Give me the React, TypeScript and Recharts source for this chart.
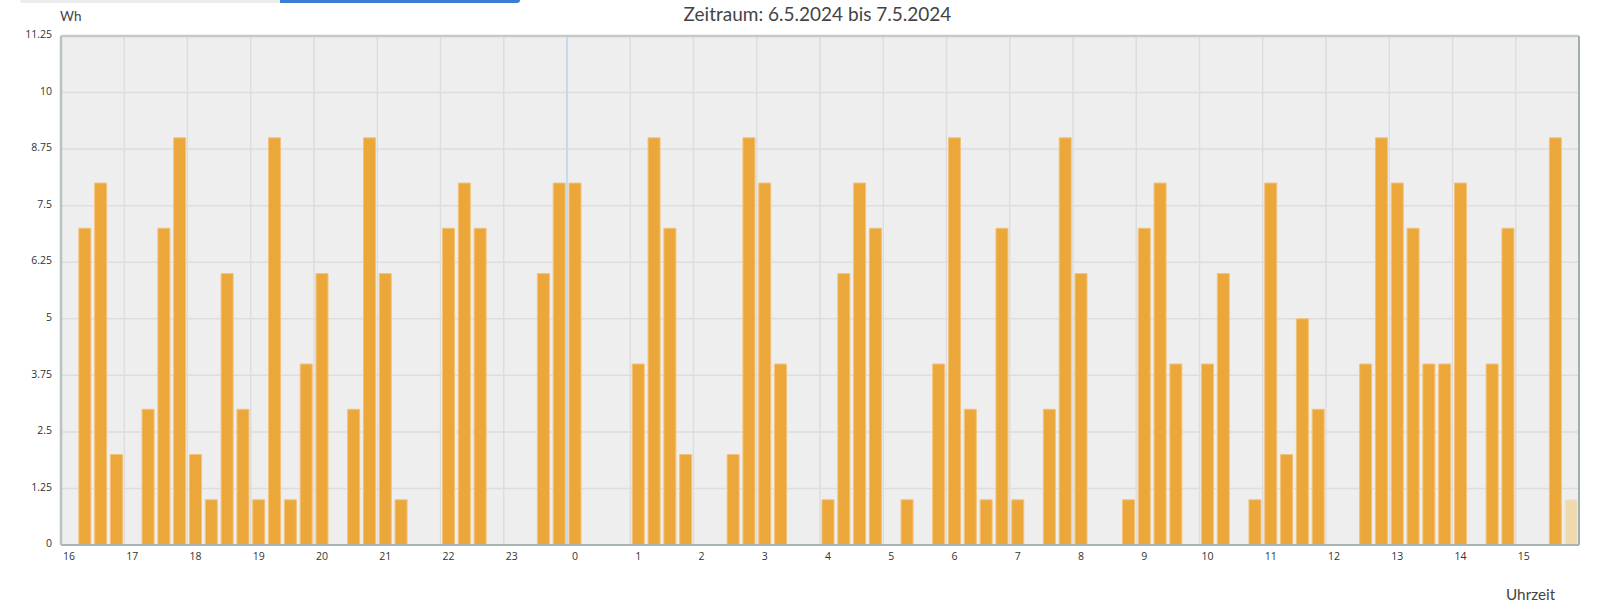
import { BarChart, Bar, XAxis, YAxis, CartesianGrid, ReferenceLine, Cell } from 'recharts';

// hour labels, starting 16:00 on 6.5.2024
const hourLabels = ['16', '17', '18', '19', '20', '21', '22', '23', '0', '1', '2', '3', '4', '5', '6', '7', '8', '9', '10', '11', '12', '13', '14', '15'];

// Wh per 15 minute slot (4 per hour)
const energyWh = [
    0, 7, 8, 2, 0, 3, 7, 9,
    2, 1, 6, 3, 1, 9, 1, 4,
    6, 0, 3, 9, 6, 1, 0, 0,
    7, 8, 7, 0, 0, 0, 6, 8,
    8, 0, 0, 0, 4, 9, 7, 2,
    0, 0, 2, 9, 8, 4, 0, 0,
    1, 6, 8, 7, 0, 1, 0, 4,
    9, 3, 1, 7, 1, 0, 3, 9,
    6, 0, 0, 1, 7, 8, 4, 0,
    4, 6, 0, 1, 8, 2, 5, 3,
    0, 0, 4, 9, 8, 7, 4, 4,
    8, 0, 4, 7, 0, 0, 9, 1,
];

const yTicks = [0, 1.25, 2.5, 3.75, 5, 6.25, 7.5, 8.75, 10, 11.25];

const title = 'Zeitraum: 6.5.2024 bis 7.5.2024';
const unitLabel = 'Wh';
const axisLabel = 'Uhrzeit';

const SLOTS_PER_HOUR = 4;
const totalSlots = hourLabels.length * SLOTS_PER_HOUR;
const data = energyWh.map((wh, i) => ({ slot: i + 0.5, wh }));
const hourTicks = hourLabels.map((_, i) => i * SLOTS_PER_HOUR);
const midnight = hourLabels.indexOf('0') * SLOTS_PER_HOUR;

const font = '"Open Sans", "DejaVu Sans", sans-serif';
const labelFont = 'Lato, "Open Sans", sans-serif';

function HourTick({ x, y, payload }: any) {
    const label = hourLabels[Math.round(payload.value / SLOTS_PER_HOUR)];
    return (
        <text x={x + 7.9} y={y} dy="0.71em" textAnchor="middle" fontSize={10.5} fill="#333" fontFamily={font}>
            {label}
        </text>
    );
}

function ValueTick({ x, y, payload }: any) {
    return (
        <text x={x - 1} y={y - 1.5} dy="0.35em" textAnchor="end" fontSize={10.5} fill="#333" fontFamily={font}>
            {payload.value}
        </text>
    );
}

export default function App() {
    return (
        <div style={{ position: 'absolute', left: 0, top: 0, width: 1597, height: 616, background: '#fff' }}>
            {/* cut-off tabs at the top */}
            <div style={{ position: 'absolute', left: 20, top: 0, width: 260, height: 3, background: '#ececec', borderBottomLeftRadius: 3 }} />
            <div style={{ position: 'absolute', left: 280, top: 0, width: 240, height: 3, background: '#3a7dd2', borderBottomRightRadius: 4 }} />

            <BarChart
                width={1597}
                height={616}
                data={data}
                margin={{ top: 36, right: 18, bottom: 0, left: 0 }}
            >
                <CartesianGrid fill="#eeeeee" stroke="#dddddd" strokeWidth={1.5} />
                <XAxis
                    dataKey="slot"
                    type="number"
                    domain={[0, totalSlots]}
                    ticks={hourTicks}
                    interval={0}
                    height={71}
                    tickLine={false}
                    axisLine={{ stroke: '#a9b5b5', strokeWidth: 2 }}
                    tick={<HourTick />}
                />
                <YAxis
                    domain={[0, 11.25]}
                    ticks={yTicks}
                    interval={0}
                    width={61}
                    tickLine={false}
                    axisLine={{ stroke: '#b8c2c0', strokeWidth: 2.5 }}
                    tick={<ValueTick />}
                />
                <ReferenceLine x={midnight} stroke="#c6daee" strokeWidth={2} />
                <Bar dataKey="wh" barSize={12} fill="#eca73b" stroke="#f3c27c" strokeWidth={1} isAnimationActive={false}>
                    {data.map((_, i) => (
                        <Cell key={`cell-${i}`} fill={i === data.length - 1 ? '#efd9b1' : '#eca73b'} stroke={i === data.length - 1 ? '#f3e3c6' : '#f3c27c'} />
                    ))}
                </Bar>
                <ReferenceLine y={11.25} stroke="#c3cac8" strokeWidth={2.5} />
                <ReferenceLine x={totalSlots} stroke="#9fb0ae" strokeWidth={2} />
            </BarChart>

            <svg width={1597} height={616} style={{ position: 'absolute', left: 0, top: 0, pointerEvents: 'none' }}>
                <text x={817.5} y={21} textAnchor="middle" fontSize={19} fill="#444" fontFamily={labelFont}>{title}</text>
                <text x={60} y={20.5} fontSize={13.5} fill="#444" fontFamily={labelFont}>{unitLabel}</text>
                <text x={1506} y={600} fontSize={15.3} fill="#444" fontFamily={labelFont}>{axisLabel}</text>
            </svg>
        </div>
    );
}
